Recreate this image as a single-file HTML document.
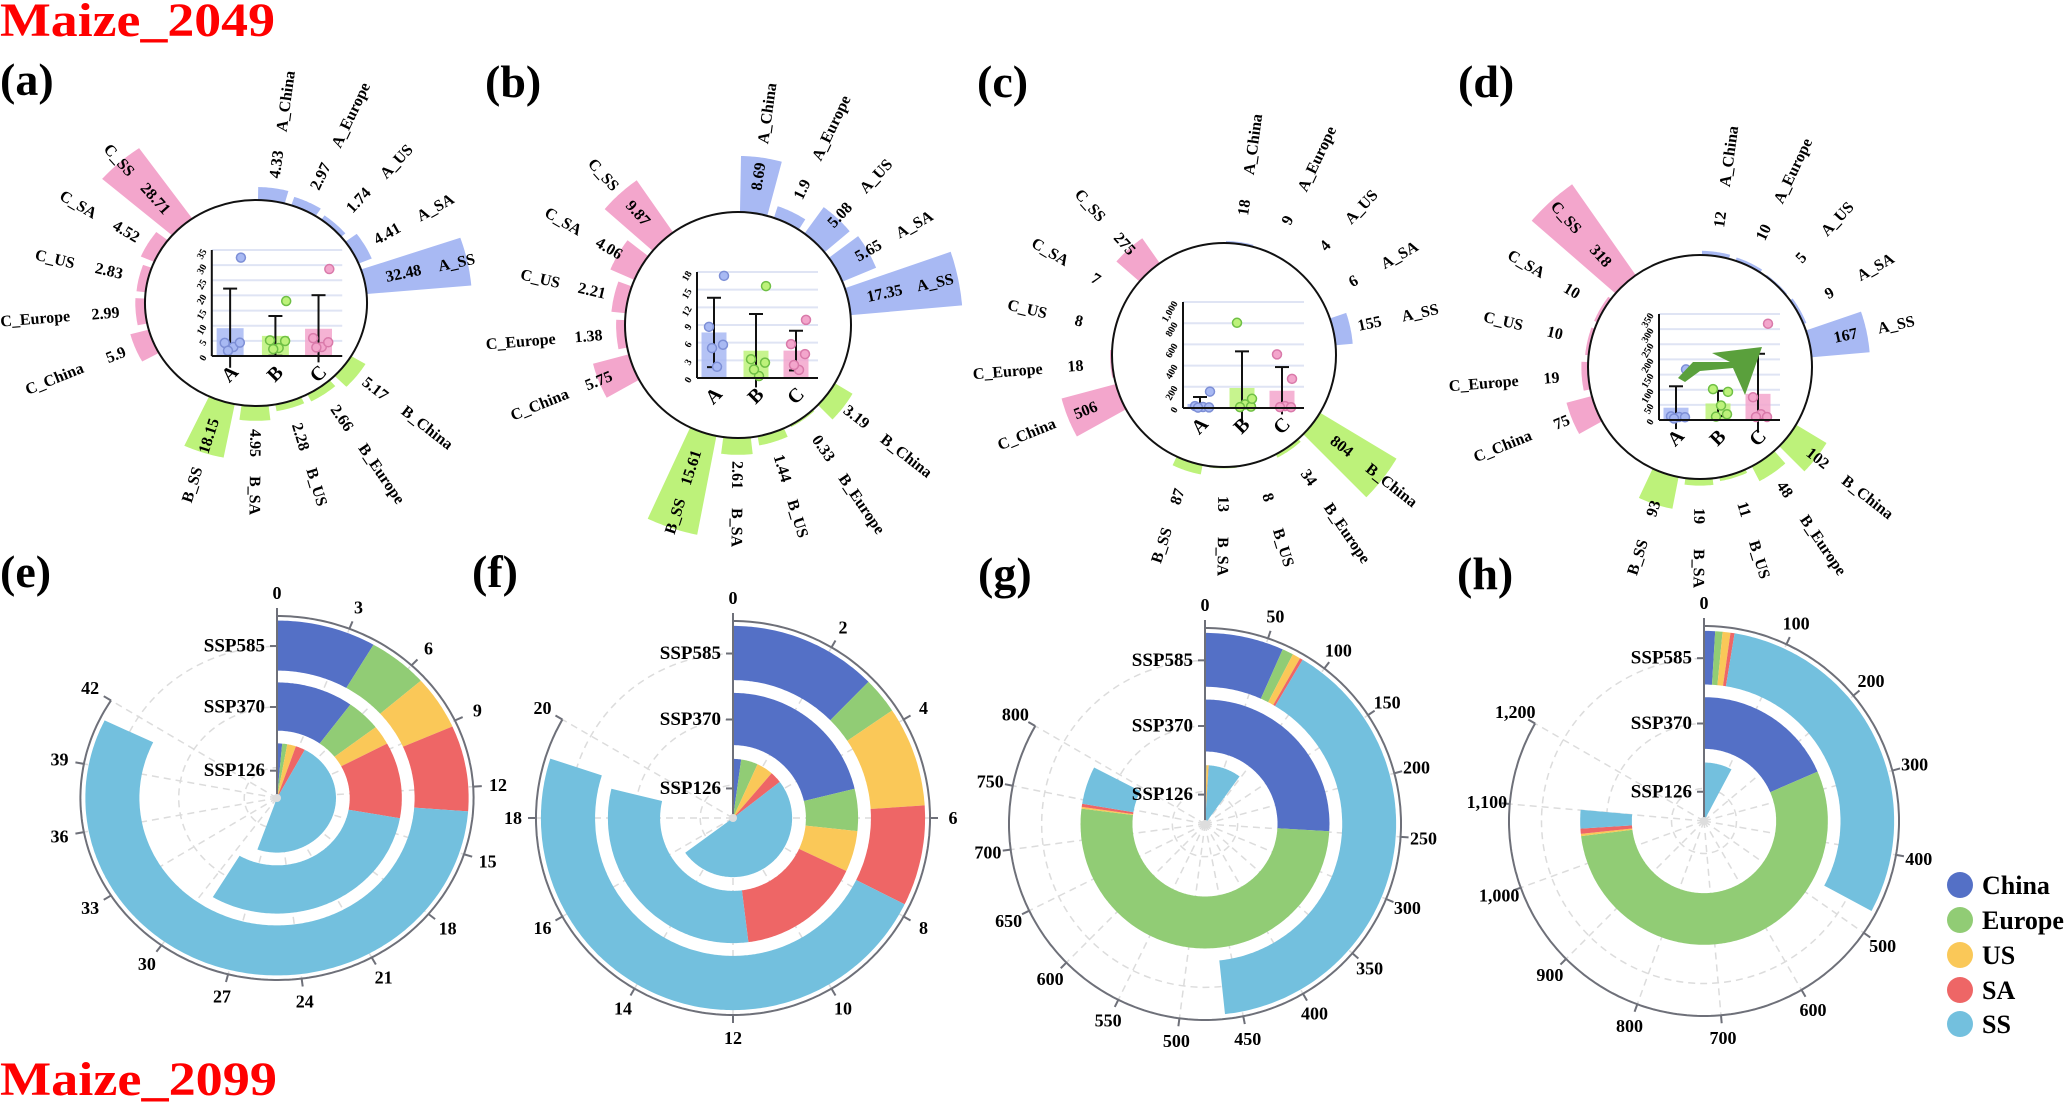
<!DOCTYPE html>
<html><head><meta charset="utf-8"><title>Maize polar charts</title>
<style>
html,body{margin:0;padding:0;background:#fff;}
svg{display:block;font-family:"Liberation Serif",serif;font-weight:bold;}
</style></head>
<body>
<svg id="chart" width="2067" height="1104" viewBox="0 0 2067 1104" xmlns="http://www.w3.org/2000/svg">
<rect x="0" y="0" width="2067" height="1104" fill="#fff"/>
<text x="0" y="36" font-size="48" fill="#ff0000" textLength="275" lengthAdjust="spacingAndGlyphs">Maize_2049</text>
<text x="0" y="1095" font-size="48" fill="#ff0000" textLength="277" lengthAdjust="spacingAndGlyphs">Maize_2099</text>
<text x="0" y="95" font-size="46">(a)</text>
<text x="485" y="97" font-size="46">(b)</text>
<text x="977" y="97" font-size="46">(c)</text>
<text x="1458" y="97" font-size="46">(d)</text>
<text x="0" y="587" font-size="46">(e)</text>
<text x="472" y="587" font-size="46">(f)</text>
<text x="978" y="589" font-size="46">(g)</text>
<text x="1457" y="589" font-size="46">(h)</text>
<g>
  <circle cx="1960" cy="885" r="13" fill="#5470c6"/>
  <text x="1982" y="894" font-size="26">China</text>
  <circle cx="1960" cy="920" r="13" fill="#91cc75"/>
  <text x="1982" y="929" font-size="26">Europe</text>
  <circle cx="1960" cy="955" r="13" fill="#fac858"/>
  <text x="1982" y="964" font-size="26">US</text>
  <circle cx="1960" cy="990" r="13" fill="#ee6666"/>
  <text x="1982" y="999" font-size="26">SA</text>
  <circle cx="1960" cy="1024" r="13" fill="#73c0de"/>
  <text x="1982" y="1033" font-size="26">SS</text>
</g>
</svg>
<script>
// ---------- data: top radial bar panels (a)-(d) ----------
const topCategories = ['A_China','A_Europe','A_US','A_SA','A_SS','B_China','B_Europe','B_US','B_SA','B_SS','C_China','C_Europe','C_US','C_SA','C_SS'];
const groupNames = ['A','B','C'];
const valuesA = [4.33,2.97,1.74,4.41,32.48, 5.17,2.66,2.28,4.95,18.15, 5.9,2.99,2.83,4.52,28.71];
const valuesB = [8.69,1.9,5.08,5.65,17.35, 3.19,0.33,1.44,2.61,15.61, 5.75,1.38,2.21,4.06,9.87];
const valuesC = [18,9,4,6,155, 804,34,8,13,87, 506,18,8,7,275];
const valuesD = [12,10,5,9,167, 102,48,11,19,93, 75,19,10,10,318];
const innerTicksA = [0,5,10,15,20,25,30,35];
const innerTicksB = [0,3,6,9,12,15,18];
const innerTicksC = [0,200,400,600,800,1000];
const innerTicksD = [0,50,100,150,200,250,300,350];

// ---------- data: bottom stacked polar panels (e)-(h) ----------
const regions = ['China','Europe','US','SA','SS'];
const scenarios = ['SSP585','SSP370','SSP126'];
const eSSP585 = [4.2,2.55,2.45,3.9,28.0];
const eSSP370 = [5.0,2.25,1.35,5.3,15.4];
const eSSP126 = [0.7,0.7,1.2,1.3,23.8];
const fSSP585 = [2.99,0.74,2.02,2.03,11.42];
const fSSP370 = [5.1,1.3,1.27,3.86,7.37];
const fSSP126 = [0.53,1.1,1.09,0.77,12.11];
const gSSP585 = [64,9,6.5,2.5,382];
const gSSP370 = [249,490,2,4,47];
const gSSP126 = [3.5,0.5,5,1,86];
const hSSP585 = [13.5,9,9.5,5,436];
const hSSP370 = [266,786,4,10,35];
const hSSP126 = [2,1,1,0.5,107.5];
const ticksE = [0,3,6,9,12,15,18,21,24,27,30,33,36,39,42];
const ticksF = [0,2,4,6,8,10,12,14,16,18,20];
const ticksG = [0,50,100,150,200,250,300,350,400,450,500,550,600,650,700,750,800];
const ticksH = [0,100,200,300,400,500,600,700,800,900,1000,1100,1200];

const NS='http://www.w3.org/2000/svg';
const svg=document.getElementById('chart');
function mk(tag,attrs,parent){const e=document.createElementNS(NS,tag);for(const k in attrs)e.setAttribute(k,attrs[k]);(parent||svg).appendChild(e);return e;}
function P(cx,cy,kx,r,deg){const a=deg*Math.PI/180;return [cx+r*kx*Math.sin(a),cy-r*Math.cos(a)];}
function sectorPath(cx,cy,kx,r0,r1,a0,a1){
  const n=Math.max(2,Math.ceil(Math.abs(a1-a0)/0.8));const pts=[];
  for(let i=0;i<=n;i++)pts.push(P(cx,cy,kx,r1,a0+(a1-a0)*i/n));
  for(let i=n;i>=0;i--)pts.push(P(cx,cy,kx,r0,a0+(a1-a0)*i/n));
  return 'M'+pts.map(p=>p[0].toFixed(1)+','+p[1].toFixed(1)).join('L')+'Z';
}
function fmt(v){return v>=1000?v.toLocaleString('en-US'):String(v);}

const topColors=['#a8b9f3','#bdf27a','#f3a6cc'];
const dotStroke=['#7d8fd6','#6fbf45','#d97aaa'];
const jitter=[-5,3,-2,9,10];

function drawTop(id,cx,cy,R,kx,scale,vals,ticks){
  const g=mk('g',{});
  
  
  vals.forEach((v,i)=>{
    const grp=Math.floor(i/5),j=i%5;
    const ang=8+120*grp+17.5*j;
    const bar=mk('path',{d:sectorPath(cx,cy,kx,R-4,R+v*scale,ang-7,ang+7),fill:topColors[grp]},g);
    
    
    const right=ang<=185;
    const rot=right?ang-90:ang+90;
    const pv=P(cx,cy,kx,R+37,ang);
    const vt=mk('text',{x:pv[0].toFixed(1),y:pv[1].toFixed(1),'font-size':16,'text-anchor':'middle','dominant-baseline':'central',transform:`rotate(${rot.toFixed(1)} ${pv[0].toFixed(1)} ${pv[1].toFixed(1)})`},g);
    vt.textContent=String(v);
    
    
    const pn=P(cx,cy,kx,R+70,ang);
    const nt=mk('text',{x:pn[0].toFixed(1),y:pn[1].toFixed(1),'font-size':16,'text-anchor':right?'start':'end','dominant-baseline':'central',transform:`rotate(${rot.toFixed(1)} ${pn[0].toFixed(1)} ${pn[1].toFixed(1)})`},g);
    nt.textContent=topCategories[i];
    
    
  });
  const circ=mk('ellipse',{cx:cx,cy:cy,rx:R*kx,ry:R,fill:'#fff',stroke:'#111','stroke-width':2},g);
  
  
  // inner bar chart
  const ymax=ticks[ticks.length-1];
  const x0=cx-41*kx,x1=cx+80*kx,y0=cy+53,H=106;
  const ys=v=>y0-v/ymax*H;
  ticks.forEach(t=>{
    if(t>0){const gl=mk('line',{x1:x0,x2:x1,y1:ys(t),y2:ys(t),stroke:'#dfe4f4','stroke-width':2},g);
    
    }
    const tl=mk('text',{x:x0-7,y:ys(t),'font-size':10,'text-anchor':'end','dominant-baseline':'central',transform:`rotate(-60 ${x0-7} ${ys(t)})`},g);
    tl.textContent=fmt(t);
    
    
  });
  const bcs=[cx-24*kx,cx+18*kx,cx+58*kx];
  groupNames.forEach((gn,k)=>{
    const gv=vals.slice(k*5,k*5+5);
    const mean=gv.reduce((a,b)=>a+b,0)/gv.length;
    const sd=Math.sqrt(gv.reduce((a,b)=>a+(b-mean)*(b-mean),0)/(gv.length-1));
    const bw=25*kx,bc=bcs[k];
    const b=mk('rect',{x:bc-bw/2,y:ys(mean),width:bw,height:y0-ys(mean),fill:topColors[k],opacity:0.85},g);
    
    
    const lo=mean-sd,hi=mean+sd;
    const loC=Math.max(lo,-0.12*ymax);
    const el=mk('line',{x1:bc,x2:bc,y1:ys(hi),y2:ys(loC),stroke:'#111','stroke-width':2},g);
    
    
    const cap=mk('line',{x1:bc-7,x2:bc+7,y1:ys(hi),y2:ys(hi),stroke:'#111','stroke-width':2},g);
    
    
    if(lo>=0){const cap2=mk('line',{x1:bc-7,x2:bc+7,y1:ys(lo),y2:ys(lo),stroke:'#111','stroke-width':2},g);
      
      }
    gv.forEach((v,i)=>{
      const d=mk('circle',{cx:bc+jitter[i]*kx,cy:ys(v),r:4.5,fill:topColors[k],stroke:dotStroke[k],'stroke-width':1.5},g);
      
      
    });
    const xl=mk('text',{x:bc,y:y0+18,'font-size':20,'text-anchor':'middle','dominant-baseline':'central',transform:`rotate(-45 ${bc} ${y0+18})`},g);
    xl.textContent=gn;
    
    
  });
  const ya=mk('line',{x1:x0,x2:x0,y1:ys(ymax),y2:y0,stroke:'#111','stroke-width':2},g);
  
  
  const xa=mk('line',{x1:x0,x2:x1,y1:y0,y2:y0,stroke:'#111','stroke-width':2},g);
  
  
}

drawTop('a',256,303,103,1.078,3.0,valuesA,innerTicksA);
drawTop('b',738,325,113,1,6.45,valuesB,innerTicksB);
drawTop('c',1224,355,112,1,0.111,valuesC,innerTicksC);
drawTop('d',1700,367,112,1,0.349,valuesD,innerTicksD);

// green arrow annotation in panel d
const arrow=mk('polygon',{points:'1678,378 1693,362 1730,362 1712,353 1762,347 1745,395 1733,368 1700,371 1685,382',fill:'#5aa03c'});



const regionColors=['#5470c6','#91cc75','#fac858','#ee6666','#73c0de'];
const bands=[[0.70,0.975],[0.37,0.635],[0,0.30]];
const bandLabelR=[0.835,0.5,0.15];

function drawDonut(id,cx,cy,R,kx,full,ticks,series){
  const g=mk('g',{});
  
  
  const deg=v=>v/full*360;
  [1/6,1/2,5/6].forEach(f=>{
    const c=mk('ellipse',{cx:cx,cy:cy,rx:R*f*kx,ry:R*f,fill:'none',stroke:'#dcdcdc','stroke-width':1.5,'stroke-dasharray':'7,5'},g);
    
    
  });
  ticks.forEach(t=>{
    const p=P(cx,cy,kx,R,deg(t));
    const l=mk('line',{x1:cx,y1:cy,x2:p[0],y2:p[1],stroke:'#dcdcdc','stroke-width':1.5,'stroke-dasharray':'7,5'},g);
    
    
  });
  series.forEach((vals,k)=>{
    let cum=0;
    vals.forEach((v,c)=>{
      const a0=deg(cum);cum+=v;const a1=deg(cum);
      const s=mk('path',{d:sectorPath(cx,cy,kx,R*bands[k][0],R*bands[k][1],a0,a1),fill:regionColors[c]},g);
      
      
    });
  });
  const amax=deg(ticks[ticks.length-1]);
  const n=Math.ceil(amax);const pts=[];
  for(let i=0;i<=n;i++){pts.push(P(cx,cy,kx,R,amax*i/n));}
  const arc=mk('polyline',{points:pts.map(p=>p[0].toFixed(1)+','+p[1].toFixed(1)).join(' '),fill:'none',stroke:'#6e7079','stroke-width':2},g);
  
  
  ticks.forEach(t=>{
    const a=deg(t);const p1=P(cx,cy,kx,R,a),p2=P(cx,cy,kx,R+8,a),pl=P(cx,cy,kx,R+23,a);
    const tk=mk('line',{x1:p1[0],y1:p1[1],x2:p2[0],y2:p2[1],stroke:'#6e7079','stroke-width':2},g);
    
    
    const tl=mk('text',{x:pl[0],y:pl[1],'font-size':18,'text-anchor':'middle','dominant-baseline':'central'},g);
    tl.textContent=fmt(t);
    
    
  });
  const ra=mk('line',{x1:cx,y1:cy,x2:cx,y2:cy-R-8,stroke:'#6e7079','stroke-width':2},g);
  
  
  scenarios.forEach((s,k)=>{
    const y=cy-R*bandLabelR[k];
    const tk=mk('line',{x1:cx-7,x2:cx,y1:y,y2:y,stroke:'#6e7079','stroke-width':2},g);
    
    
    const tl=mk('text',{x:cx-12,y:y,'font-size':19,'text-anchor':'end','dominant-baseline':'central'},g);
    tl.textContent=s;
    
    
  });
  const cc=mk('circle',{cx:cx,cy:cy,r:4,fill:'#ddd'},g);
  
  
}

drawDonut('e',277,798,182,1.08,50,ticksE,[eSSP585,eSSP370,eSSP126]);
drawDonut('f',733,818,197,1,24,ticksF,[fSSP585,fSSP370,fSSP126]);
drawDonut('g',1205,824,196,1,960,ticksG,[gSSP585,gSSP370,gSSP126]);
drawDonut('h',1704,821,195,1,1440,ticksH,[hSSP585,hSSP370,hSSP126]);
</script>
</body></html>
